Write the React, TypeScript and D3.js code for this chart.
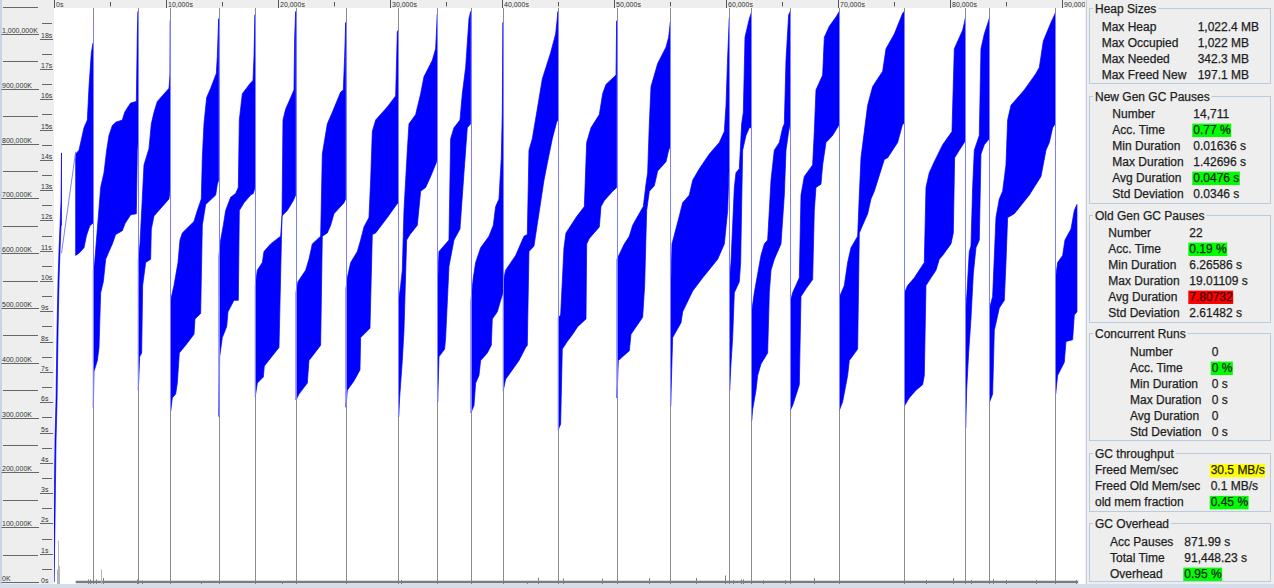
import React, { useRef, useEffect } from "react";
import * as d3 from "d3";

const W = 1274, H = 588;

// full GC events (s) and heap used right before them (K)
const fullGcTimes = [3482, 7500, 10386, 14701, 17945, 21576, 26040, 30742, 34224, 37200, 40087, 44997,
  50238, 55029, 60296, 62261, 65742, 70117, 75920, 81366, 83509, 89402];
const fullGcPeaksK = [1022000, 1041000, 1024000, 1028000, 1035000, 1041000, 1021000, 1007000, 1035000, 1041000, 1021000, 1041000,
  1024000, 1021000, 1028000, 1038000, 1041000, 1041000, 1041000, 1028000, 1028000, 1038000];

// used heap band per cycle: upper edge (before young GC) [s, K]
const heapUpper = [
  [[0, 113000], [90, 259000], [180, 332000], [270, 460000], [360, 551000], [450, 606000], [540, 651000], [630, 697000], [670, 783000]],
  [[1934, 781000], [2232, 788000], [2678, 829000], [2976, 843000], [3125, 904000], [3333, 966000], [3482, 983000]],
  [[3512, 569000], [3631, 583000], [4166, 720000], [4464, 747000], [4702, 788000], [4910, 815000], [5208, 833000], [5506, 839000], [6101, 843000], [6309, 857000], [6607, 867000], [6845, 874000], [7351, 877000], [7440, 1000000], [7500, 1041000]],
  [[7529, 589000], [7678, 617000], [8035, 761000], [8482, 791000], [8690, 836000], [8928, 857000], [9226, 877000], [10267, 901000], [10356, 925000], [10386, 1024000]],
  [[10416, 514000], [10714, 541000], [11071, 583000], [11249, 624000], [11458, 637000], [12499, 658000], [12797, 678000], [13154, 699000], [13243, 774000], [13392, 836000], [13630, 884000], [13987, 901000], [14493, 928000], [14582, 959000], [14701, 1028000]],
  [[14731, 596000], [14880, 624000], [15118, 651000], [15326, 678000], [15773, 702000], [16219, 709000], [16457, 720000], [16547, 843000], [16814, 891000], [17558, 911000], [17767, 915000], [17856, 959000], [17945, 1035000]],
  [[17975, 541000], [18154, 569000], [18600, 583000], [18749, 603000], [19344, 617000], [20237, 631000], [20356, 665000], [20445, 843000], [20683, 863000], [20981, 877000], [21427, 898000], [21487, 994000], [21576, 1041000]],
  [[21606, 528000], [21784, 548000], [22469, 569000], [22766, 589000], [23064, 617000], [23808, 631000], [23957, 781000], [24403, 836000], [24850, 857000], [25594, 894000], [25832, 898000], [25951, 959000], [26040, 1021000]],
  [[26070, 535000], [26189, 555000], [26486, 583000], [27082, 603000], [27379, 624000], [27677, 648000], [28123, 665000], [28272, 733000], [28421, 822000], [28718, 843000], [29760, 867000], [30504, 887000], [30653, 1004000], [30742, 1007000]],
  [[30772, 514000], [30950, 541000], [31099, 569000], [31248, 678000], [31546, 788000], [31694, 836000], [32290, 853000], [32736, 891000], [33034, 922000], [33778, 952000], [34075, 973000], [34224, 1035000]],
  [[34254, 541000], [34373, 603000], [35266, 624000], [35414, 809000], [35712, 829000], [36248, 843000], [36456, 891000], [36754, 939000], [37051, 1028000], [37200, 1041000]],
  [[37230, 514000], [37438, 555000], [37646, 583000], [38093, 610000], [38837, 631000], [39224, 651000], [39432, 685000], [39730, 699000], [39938, 774000], [40027, 857000], [40087, 1021000]],
  [[40116, 548000], [40325, 569000], [41218, 596000], [41962, 631000], [42259, 634000], [42408, 788000], [42706, 809000], [43152, 863000], [43598, 918000], [44342, 966000], [44789, 1000000], [44997, 1041000]],
  [[45027, 483000], [45235, 487000], [45533, 610000], [45714, 637000], [46607, 665000], [47351, 685000], [47559, 802000], [47946, 829000], [48690, 853000], [48988, 891000], [49285, 908000], [50178, 925000], [50238, 1024000]],
  [[50267, 589000], [50922, 617000], [51368, 631000], [51666, 651000], [52410, 678000], [52618, 685000], [52856, 726000], [53005, 747000], [53154, 836000], [53303, 904000], [53898, 946000], [54642, 976000], [54880, 994000], [55029, 1021000]],
  [[55059, 528000], [55178, 617000], [55833, 668000], [56130, 692000], [56725, 706000], [57023, 733000], [57618, 754000], [58511, 781000], [59404, 802000], [59850, 822000], [60000, 870000], [60148, 959000], [60296, 1028000]],
  [[60326, 555000], [60445, 583000], [60743, 720000], [60892, 747000], [61190, 754000], [61398, 836000], [61547, 857000], [61696, 994000], [62082, 1028000], [62261, 1038000]],
  [[62291, 493000], [62529, 528000], [62826, 562000], [63124, 596000], [63421, 617000], [63719, 624000], [63868, 678000], [64017, 733000], [64314, 788000], [64761, 802000], [65058, 829000], [65207, 836000], [65356, 952000], [65594, 1035000], [65742, 1041000]],
  [[65772, 514000], [65951, 528000], [66546, 555000], [66694, 706000], [66992, 740000], [67736, 761000], [67885, 822000], [68034, 898000], [68629, 925000], [68778, 994000], [69224, 1014000], [69820, 1031000], [70117, 1041000]],
  [[70147, 521000], [70564, 541000], [70861, 583000], [71159, 610000], [71754, 631000], [71903, 706000], [72052, 774000], [72350, 822000], [72647, 870000], [73093, 904000], [73986, 932000], [74284, 973000], [75028, 1000000], [75772, 1038000], [75920, 1041000]],
  [[75950, 528000], [76218, 541000], [76813, 555000], [77706, 583000], [77855, 720000], [78152, 747000], [78598, 767000], [79342, 798000], [80176, 822000], [80384, 973000], [81128, 1007000], [81366, 1028000]],
  [[81396, 493000], [81515, 528000], [81723, 603000], [81872, 613000], [82021, 720000], [82170, 788000], [82616, 815000], [82765, 973000], [83063, 1000000], [83509, 1028000]],
  [[83539, 500000], [83807, 521000], [84104, 665000], [84402, 699000], [84700, 713000], [84997, 761000], [85146, 843000], [85444, 870000], [86634, 898000], [87676, 928000], [87974, 939000], [88331, 987000], [89015, 1021000], [89402, 1038000]],
  [[89432, 555000], [89610, 583000], [90057, 596000], [90265, 624000], [90801, 644000], [91098, 678000], [91336, 689000]],
];

// lower edge (after young GC) [s, K]
const heapLower = [
  [[0, 0], [90, 113000], [180, 259000], [270, 332000], [360, 460000], [450, 551000], [540, 606000], [630, 651000], [670, 651000]],
  [[1934, 596000], [2232, 600000], [2678, 610000], [2887, 631000], [2976, 637000], [3200, 650000], [3482, 655000]],
  [[3512, 319000], [3571, 384000], [3869, 404000], [4018, 428000], [4166, 528000], [4404, 548000], [4613, 589000], [4910, 603000], [5208, 617000], [5506, 634000], [6101, 641000], [6339, 654000], [6845, 670000], [7351, 672000], [7440, 788000], [7500, 800000]],
  [[7529, 350000], [7648, 411000], [7827, 418000], [7916, 541000], [8184, 583000], [8630, 589000], [8690, 644000], [8928, 668000], [10267, 699000], [10386, 720000]],
  [[10416, 312000], [10565, 336000], [10862, 343000], [11011, 363000], [11190, 418000], [11755, 432000], [12499, 452000], [12588, 480000], [13094, 490000], [13243, 651000], [13541, 689000], [14434, 706000], [14582, 726000], [14701, 733000]],
  [[14731, 302000], [14791, 411000], [15029, 446000], [15416, 466000], [15535, 493000], [16070, 514000], [16457, 514000], [16547, 678000], [16963, 692000], [17558, 706000], [17796, 709000], [17945, 720000]],
  [[17975, 339000], [18154, 363000], [18689, 374000], [18779, 394000], [20088, 428000], [20356, 668000], [20832, 678000], [21368, 696000], [21576, 706000]],
  [[21606, 332000], [21874, 343000], [22618, 363000], [22766, 404000], [23659, 428000], [23808, 432000], [23957, 631000], [24403, 637000], [24701, 651000], [24998, 672000], [25445, 682000], [25891, 692000], [26040, 699000]],
  [[26070, 319000], [26189, 350000], [26784, 367000], [27320, 387000], [27379, 446000], [28212, 463000], [28421, 634000], [28718, 637000], [29760, 665000], [30593, 689000], [30742, 692000]],
  [[30772, 302000], [30861, 336000], [31099, 404000], [31248, 459000], [31486, 624000], [31784, 634000], [32438, 651000], [32736, 713000], [33182, 720000], [33629, 740000], [34164, 767000], [34224, 774000]],
  [[34254, 329000], [34373, 411000], [34879, 425000], [34968, 446000], [35266, 576000], [35712, 624000], [36248, 644000], [36605, 747000], [36902, 829000], [37200, 836000]],
  [[37230, 309000], [37498, 322000], [37646, 363000], [37944, 377000], [38093, 404000], [38688, 418000], [39045, 432000], [39134, 480000], [39581, 493000], [39878, 514000], [40087, 528000]],
  [[40116, 350000], [40325, 370000], [41515, 404000], [42110, 428000], [42259, 432000], [42408, 603000], [42854, 613000], [43747, 733000], [44045, 764000], [44491, 809000], [44878, 839000], [44997, 843000]],
  [[45027, 278000], [45235, 288000], [45384, 425000], [45830, 439000], [46309, 452000], [46756, 466000], [47500, 480000], [47559, 617000], [47797, 627000], [48690, 648000], [48839, 685000], [49136, 696000], [49880, 713000], [50238, 720000]],
  [[50267, 336000], [50386, 404000], [51368, 422000], [51517, 452000], [52559, 483000], [52737, 541000], [52916, 678000], [53154, 713000], [53600, 723000], [53898, 750000], [54642, 767000], [54880, 788000], [55029, 795000]],
  [[55059, 322000], [55237, 446000], [55982, 473000], [56130, 493000], [57023, 531000], [57916, 555000], [59255, 589000], [59850, 617000], [60148, 678000], [60296, 767000]],
  [[60326, 350000], [60445, 398000], [60594, 446000], [60743, 528000], [61190, 548000], [61309, 583000], [61487, 788000], [61785, 815000], [62082, 829000], [62261, 829000]],
  [[62291, 295000], [62380, 315000], [62678, 350000], [62826, 377000], [63124, 398000], [63719, 418000], [63868, 528000], [64017, 569000], [64314, 589000], [64909, 617000], [65207, 706000], [65356, 788000], [65594, 822000], [65742, 836000]],
  [[65772, 315000], [65951, 322000], [66546, 360000], [66694, 521000], [67141, 535000], [67736, 552000], [67885, 678000], [68034, 720000], [68480, 726000], [68629, 761000], [68927, 802000], [69522, 815000], [70058, 833000], [70117, 836000]],
  [[70147, 315000], [70415, 329000], [70861, 377000], [71010, 404000], [71754, 425000], [71903, 637000], [72200, 651000], [72647, 672000], [72944, 699000], [73242, 713000], [74135, 771000], [74432, 774000], [75325, 802000], [75772, 836000], [75920, 836000]],
  [[75950, 322000], [76367, 336000], [76962, 350000], [77557, 360000], [77706, 377000], [77855, 541000], [78301, 555000], [78748, 569000], [79045, 589000], [79342, 596000], [80086, 617000], [80295, 637000], [80414, 774000], [80831, 788000], [81276, 802000], [81366, 805000]],
  [[81396, 281000], [81485, 350000], [81664, 418000], [81872, 480000], [82080, 562000], [82318, 610000], [82616, 624000], [82765, 781000], [83063, 798000], [83509, 809000]],
  [[83539, 329000], [83807, 343000], [83956, 459000], [84402, 500000], [84849, 514000], [84997, 583000], [85146, 665000], [85741, 672000], [87080, 706000], [88122, 740000], [88569, 788000], [88867, 802000], [89164, 829000], [89402, 836000]],
  [[89432, 343000], [89610, 377000], [90205, 401000], [90354, 439000], [90949, 442000], [91098, 487000], [91336, 493000]],
];

// missing log stretch at the start, drawn as a plain line
const warmupGap = [[670, 600000], [1934, 785000]];

// young GC pauses that stand out of the bottom noise [s, seconds]
const youngPauses = [[268, 0.48], [400, 1.43], [446, 0.6], [3036, 0.15], [3214, 0.15], [3750, 0.15], [4196, 0.48], [4375, 0.2],
  [7411, 0.15], [7857, 0.12], [13125, 0.08], [20357, 0.08], [30982, 0.13], [42232, 0.08], [43214, 0.21], [45446, 0.18],
  [48929, 0.18], [50268, 0.11], [53125, 0.2], [57321, 0.2], [59911, 0.28], [60625, 0.12], [61339, 0.15], [61518, 0.15],
  [63304, 0.12], [65268, 0.12], [67857, 0.2], [77857, 0.13], [80268, 0.2], [81875, 0.13], [83839, 0.16], [85000, 0.13],
  [87679, 0.13], [91250, 0.13]];
const youngPauseAvg = 0.0476;
const totalTime = 91448;

const memTicks = [0, 100000, 200000, 300000, 400000, 500000, 600000, 700000, 800000, 900000, 1000000];
const memMinorTicks = [50000, 150000, 250000, 350000, 450000, 550000, 650000, 750000, 850000, 950000, 1050000];
const pauseTicks = [0, 1, 2, 3, 4, 5, 6, 7, 8, 9, 10, 11, 12, 13, 14, 15, 16, 17, 18];
const pauseMinorTicks = [0.5, 1.5, 2.5, 3.5, 4.5, 5.5, 6.5, 7.5, 8.5, 9.5, 10.5, 11.5, 12.5, 13.5, 14.5, 15.5, 16.5, 17.5, 18.5];
const timeTicks = [0, 5000, 10000, 15000, 20000, 25000, 30000, 35000, 40000, 45000, 50000, 55000, 60000, 65000, 70000, 75000, 80000, 85000, 90000];

// right hand summary panel
const heapSizeLabels = ["Max Heap", "Max Occupied", "Max Needed", "Max Freed New"];
const heapSizeValues = ["1,022.4 MB", "1,022 MB", "342.3 MB", "197.1 MB"];
const heapSizeMarks = [null, null, null, null];

const newGenLabels = ["Number", "Acc. Time", "Min Duration", "Max Duration", "Avg Duration", "Std Deviation"];
const newGenValues = ["14,711", "0.77 %", "0.01636 s", "1.42696 s", "0.0476 s", "0.0346 s"];
const newGenMarks = [null, "#00ff00", null, null, "#00ff00", null];

const oldGenLabels = ["Number", "Acc. Time", "Min Duration", "Max Duration", "Avg Duration", "Std Deviation"];
const oldGenValues = ["22", "0.19 %", "6.26586 s", "19.01109 s", "7.80732", "2.61482 s"];
const oldGenMarks = [null, "#00ff00", null, null, "#ff0000", null];

const concLabels = ["Number", "Acc. Time", "Min Duration", "Max Duration", "Avg Duration", "Std Deviation"];
const concValues = ["0", "0 %", "0 s", "0 s", "0", "0 s"];
const concMarks = [null, "#00ff00", null, null, null, null];

const throughputLabels = ["Freed Mem/sec", "Freed Old Mem/sec", "old mem fraction"];
const throughputValues = ["30.5 MB/s", "0.1 MB/s", "0.45 %"];
const throughputMarks = ["#ffff00", null, "#00ff00"];

const overheadLabels = ["Acc Pauses", "Total Time", "Overhead"];
const overheadValues = ["871.99 s", "91,448.23 s", "0.95 %"];
const overheadMarks = [null, null, "#00ff00"];

const FONT = '"Liberation Sans", Arial, sans-serif';

export default function App() {
  const ref = useRef(null);

  useEffect(() => {
    const svg = d3.select(ref.current);
    svg.selectAll("*").remove();

    const plot = { left: 54, right: 1085, top: 8, bottom: 584 };
    const x = d3.scaleLinear().domain([0, 90000]).range([54, 1062]);
    const yMem = d3.scaleLinear().domain([0, 1000000]).range([582, 34]);
    const yPause = d3.scaleLinear().domain([0, 18]).range([584, 38.6]);
    const px = v => Math.round(v) + 0.5;

    svg.append("rect").attr("width", W).attr("height", H).attr("fill", "#eeeeee");

    const defs = svg.append("defs");
    defs.append("clipPath").attr("id", "plotclip").append("rect")
      .attr("x", plot.left).attr("y", plot.top)
      .attr("width", plot.right - plot.left).attr("height", plot.bottom - plot.top);
    defs.append("clipPath").attr("id", "rulerclip").append("rect")
      .attr("x", 0).attr("y", 0).attr("width", plot.right).attr("height", plot.top);

    // plot background
    svg.append("rect").attr("x", plot.left).attr("y", plot.top)
      .attr("width", plot.right - plot.left).attr("height", plot.bottom - plot.top)
      .attr("fill", "#ffffff");

    const g = svg.append("g").attr("clip-path", "url(#plotclip)");

    // full GC markers
    g.selectAll("line.fgc").data(fullGcTimes).enter().append("line")
      .attr("x1", d => px(x(d))).attr("x2", d => px(x(d)))
      .attr("y1", plot.top).attr("y2", plot.bottom)
      .attr("stroke", "#8c8c8c").attr("stroke-width", 1);

    // young GC pause times at the bottom
    g.append("line")
      .attr("x1", x(1934)).attr("x2", x(totalTime))
      .attr("y1", yPause(youngPauseAvg) - 0.5).attr("y2", yPause(youngPauseAvg) - 0.5)
      .attr("stroke", "#7c7c7c").attr("stroke-width", 2.5);
    g.selectAll("line.yp").data(youngPauses).enter().append("line")
      .attr("x1", d => px(x(d[0]))).attr("x2", d => px(x(d[0])))
      .attr("y1", yPause(0)).attr("y2", d => yPause(d[1]))
      .attr("stroke", d => d[1] > 0.3 ? "#b4b4b4" : "#808080").attr("stroke-width", 1);

    // used heap bands
    const line = d3.line().x(d => x(d[0])).y(d => yMem(d[1]));
    heapUpper.forEach((up, i) => {
      const pts = up.concat(heapLower[i].slice().reverse());
      g.append("path").attr("d", line(pts) + "Z")
        .attr("fill", "#0000ff").attr("stroke", "#0000ff").attr("stroke-width", 0.7)
        .attr("stroke-linejoin", "round");
    });

    // heap drop at each full GC
    fullGcTimes.forEach((t, i) => {
      const after = heapLower[i + 2][0][1];
      g.append("line")
        .attr("x1", px(x(t))).attr("x2", px(x(t)))
        .attr("y1", yMem(fullGcPeaksK[i])).attr("y2", yMem(after))
        .attr("stroke", "#7f7fff").attr("stroke-width", 1);
    });
    g.append("path").attr("d", line(warmupGap))
      .attr("fill", "none").attr("stroke", "#8080ff").attr("stroke-width", 1);

    // top time ruler
    const ruler = svg.append("g").attr("clip-path", "url(#rulerclip)");
    ruler.append("rect").attr("x", plot.left).attr("y", 0).attr("width", plot.right - plot.left)
      .attr("height", plot.top).attr("fill", "#eeeeee");
    timeTicks.forEach(t => {
      const xx = px(x(t));
      const major = t % 10000 === 0;
      ruler.append("line").attr("x1", xx).attr("x2", xx)
        .attr("y1", major ? 0 : 2).attr("y2", major ? plot.top : 6.5)
        .attr("stroke", "#555").attr("stroke-width", 1);
      if (major) {
        ruler.append("text").attr("x", xx + 1.5).attr("y", 7)
          .attr("font-family", FONT).attr("font-size", 7).attr("fill", "#333")
          .text(d3.format(",")(t) + "s");
      }
    });

    // left axes
    const axis = svg.append("g");
    axis.append("rect").attr("x", 0).attr("y", 0).attr("width", 2).attr("height", H).attr("fill", "#c6d5e5");
    memMinorTicks.forEach(v => {
      const yy = px(yMem(v));
      axis.append("line").attr("x1", 3).attr("x2", 38).attr("y1", yy).attr("y2", yy)
        .attr("stroke", "#666").attr("stroke-width", 1);
    });
    memTicks.forEach(v => {
      const yy = px(yMem(v));
      axis.append("line").attr("x1", 1.5).attr("x2", 39).attr("y1", yy).attr("y2", yy)
        .attr("stroke", "#666").attr("stroke-width", 1);
      axis.append("text").attr("x", 2).attr("y", yy - 1.5)
        .attr("font-family", FONT).attr("font-size", 7).attr("fill", "#333")
        .text(d3.format(",")(v) + "K");
    });
    pauseMinorTicks.forEach(v => {
      const yy = px(yPause(v));
      axis.append("line").attr("x1", 42).attr("x2", 52).attr("y1", yy).attr("y2", yy)
        .attr("stroke", "#666").attr("stroke-width", 1);
    });
    pauseTicks.forEach(v => {
      const yy = px(yPause(v));
      axis.append("line").attr("x1", 40).attr("x2", 53).attr("y1", yy).attr("y2", yy)
        .attr("stroke", "#666").attr("stroke-width", 1);
      axis.append("text").attr("x", 41).attr("y", yy - 1.5)
        .attr("font-family", FONT).attr("font-size", 7).attr("fill", "#333")
        .text(v + "s");
    });

    // bottom strip and panel separator
    svg.append("rect").attr("x", 0).attr("y", 584).attr("width", W).attr("height", 4).attr("fill", "#d3deea");
    svg.append("line").attr("x1", 1086.5).attr("x2", 1086.5).attr("y1", 0).attr("y2", 584)
      .attr("stroke", "#c3cfdc").attr("stroke-width", 1);

    // summary panel
    const groups = [
      { title: "Heap Sizes", labels: heapSizeLabels, values: heapSizeValues, marks: heapSizeMarks, top: 8.5, bottom: 83.5, lx: 1101.7, vx: 1197.7, b0: 31 },
      { title: "New Gen GC Pauses", labels: newGenLabels, values: newGenValues, marks: newGenMarks, top: 96.5, bottom: 203.5, lx: 1112.3, vx: 1193.3, b0: 118 },
      { title: "Old Gen GC Pauses", labels: oldGenLabels, values: oldGenValues, marks: oldGenMarks, top: 215.5, bottom: 322.5, lx: 1108.3, vx: 1189.3, b0: 237 },
      { title: "Concurrent Runs", labels: concLabels, values: concValues, marks: concMarks, top: 333.5, bottom: 440.5, lx: 1130, vx: 1211.7, b0: 356 },
      { title: "GC throughput", labels: throughputLabels, values: throughputValues, marks: throughputMarks, top: 453.5, bottom: 511.5, lx: 1095, vx: 1210.7, b0: 474.3 },
      { title: "GC Overhead", labels: overheadLabels, values: overheadValues, marks: overheadMarks, top: 523.5, bottom: 581.5, lx: 1110, vx: 1184.3, b0: 546 },
    ];
    const panel = svg.append("g").attr("font-family", FONT).attr("font-size", 12)
      .attr("fill", "#1e1e1e").attr("stroke", "#1e1e1e").attr("stroke-width", 0.25);
    groups.forEach(grp => {
      panel.append("rect").attr("x", 1089.5).attr("y", grp.top).attr("width", 181)
        .attr("height", grp.bottom - grp.top).attr("fill", "none").attr("stroke", "#b8cbe0").attr("stroke-width", 1);
      const title = panel.append("text").attr("x", 1095).attr("y", grp.top + 4.3).text(grp.title);
      const tw = title.node().getComputedTextLength();
      panel.insert("rect", () => title.node()).attr("x", 1093).attr("y", grp.top - 2)
        .attr("width", tw + 4).attr("height", 4).attr("fill", "#eeeeee").attr("stroke", "none");
      grp.labels.forEach((lab, i) => {
        const by = grp.b0 + i * 16;
        panel.append("text").attr("x", grp.lx).attr("y", by).text(lab);
        const vt = panel.append("text").attr("x", grp.vx).attr("y", by).text(grp.values[i]);
        if (grp.marks[i]) {
          const w = vt.node().getComputedTextLength();
          panel.insert("rect", () => vt.node()).attr("x", grp.vx - 1).attr("y", by - 10.4)
            .attr("width", w + 1.5).attr("height", 13.4).attr("fill", grp.marks[i]).attr("stroke", "none");
          if (grp.marks[i] === "#ff0000") vt.attr("fill", "#3a0000").attr("stroke", "#3a0000");
        }
      });
    });
  }, []);

  return (
    <svg ref={ref} width={W} height={H}
      style={{ position: "absolute", left: 0, top: 0, display: "block" }} />
  );
}
